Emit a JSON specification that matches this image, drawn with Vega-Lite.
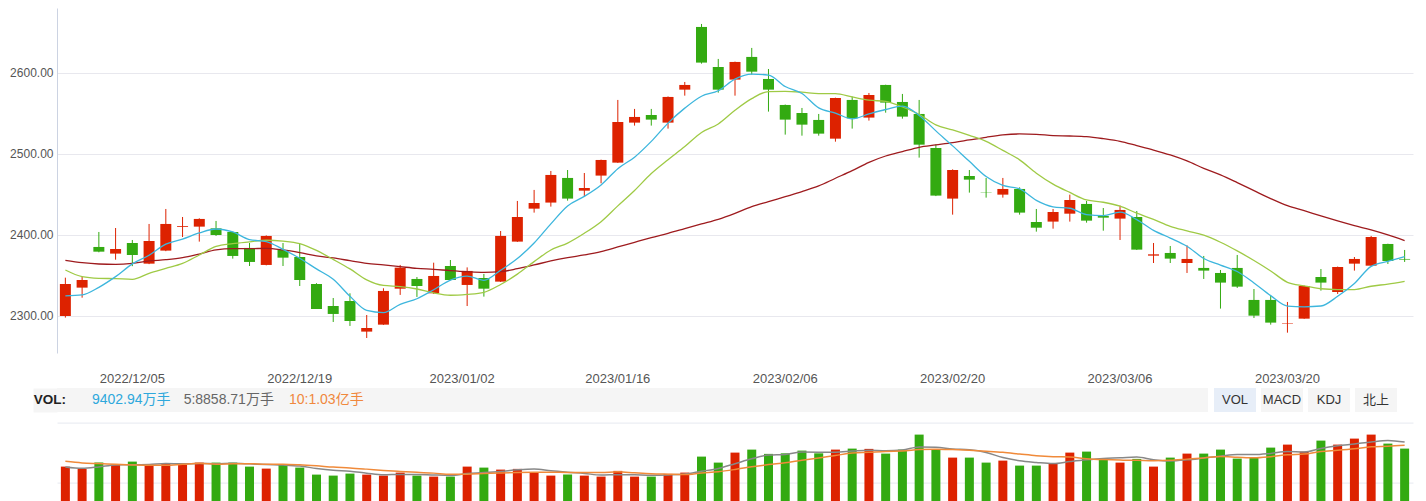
{
  "$schema": "https://vega.github.io/schema/vega-lite/v6.json",
  "padding": {"left": 9, "top": 8, "right": 13, "bottom": 0},
  "background": "#ffffff",
  "config": {
    "view": {"stroke": null},
    "font": "Liberation Sans, Arial, Noto Sans CJK SC, sans-serif",
    "axis": {"labelFont": "Liberation Sans, Arial, Noto Sans CJK SC, sans-serif"}
  },
  "datasets": {
    "k": [
      {"d":"2022/11/29","o":2300,"h":2347.3,"l":2298,"c":2339.5,"m5":2324.7,"m10":2356.8,"m30":2368.7,"v":6300,"vm5":6250,"vm10":7230},
      {"d":"2022/11/30","o":2335,"h":2348.6,"l":2322.6,"c":2344.4,"m5":2326,"m10":2348.6,"m30":2365.8,"v":5900,"vm5":6000,"vm10":6950},
      {"d":"2022/12/01","o":2385.2,"h":2403.7,"l":2378.6,"c":2379.4,"m5":2335.4,"m10":2346.5,"m30":2364.2,"v":7000,"vm5":6250,"vm10":6825},
      {"d":"2022/12/02","o":2377,"h":2408.6,"l":2369.5,"c":2382.7,"m5":2348.6,"m10":2346.1,"m30":2363.8,"v":6650,"vm5":6600,"vm10":6700},
      {"d":"2022/12/05","o":2390.1,"h":2393.8,"l":2361.5,"c":2375.3,"m5":2364.3,"m10":2345.3,"m30":2365,"v":7175,"vm5":6605,"vm10":6600},
      {"d":"2022/12/06","o":2364.6,"h":2413.6,"l":2364,"c":2392.6,"m5":2374.9,"m10":2352.7,"m30":2367.9,"v":6650,"vm5":6675,"vm10":6530},
      {"d":"2022/12/07","o":2380.7,"h":2432.1,"l":2380,"c":2413.6,"m5":2388.7,"m10":2358.8,"m30":2369.5,"v":6825,"vm5":6860,"vm10":6530},
      {"d":"2022/12/08","o":2410,"h":2422.2,"l":2397.5,"c":2411,"m5":2395,"m10":2365,"m30":2372,"v":6600,"vm5":6780,"vm10":6700},
      {"d":"2022/12/09","o":2410.3,"h":2420.6,"l":2391.8,"c":2419.8,"m5":2402.5,"m10":2375.3,"m30":2376.5,"v":7000,"vm5":6850,"vm10":6880},
      {"d":"2022/12/12","o":2408.2,"h":2417.3,"l":2398.8,"c":2400,"m5":2407.4,"m10":2385.8,"m30":2381.5,"v":7000,"vm5":6815,"vm10":6710},
      {"d":"2022/12/13","o":2403.7,"h":2404,"l":2370.8,"c":2374.1,"m5":2403.7,"m10":2389.3,"m30":2383.1,"v":7000,"vm5":6885,"vm10":6780},
      {"d":"2022/12/14","o":2384,"h":2390.1,"l":2361.7,"c":2366.7,"m5":2394.3,"m10":2391.5,"m30":2383.1,"v":6300,"vm5":6780,"vm10":6820},
      {"d":"2022/12/15","o":2363,"h":2399.5,"l":2362.5,"c":2398.8,"m5":2391.9,"m10":2393.5,"m30":2383.5,"v":5950,"vm5":6650,"vm10":6715},
      {"d":"2022/12/16","o":2381.5,"h":2390.1,"l":2361.7,"c":2372,"m5":2382.3,"m10":2392.4,"m30":2381.5,"v":6600,"vm5":6570,"vm10":6710},
      {"d":"2022/12/19","o":2372.8,"h":2389.3,"l":2337,"c":2344.4,"m5":2371.2,"m10":2389.3,"m30":2378.2,"v":6125,"vm5":6395,"vm10":6605},
      {"d":"2022/12/20","o":2339.5,"h":2340.5,"l":2308.6,"c":2308.6,"m5":2358.1,"m10":2380.9,"m30":2374.1,"v":4900,"vm5":5975,"vm10":6430},
      {"d":"2022/12/21","o":2312.3,"h":2322.2,"l":2292.6,"c":2302.5,"m5":2345.3,"m10":2369.8,"m30":2371.6,"v":4725,"vm5":5660,"vm10":6220},
      {"d":"2022/12/22","o":2318.5,"h":2328,"l":2287.7,"c":2293.8,"m5":2324.3,"m10":2358.1,"m30":2368.3,"v":5075,"vm5":5485,"vm10":6068},
      {"d":"2022/12/23","o":2280.7,"h":2301.2,"l":2272.8,"c":2285.2,"m5":2306.9,"m10":2344.6,"m30":2365,"v":4900,"vm5":5145,"vm10":5858},
      {"d":"2022/12/26","o":2289.3,"h":2334.2,"l":2289,"c":2330.9,"m5":2304.2,"m10":2337.7,"m30":2363,"v":4725,"vm5":4865,"vm10":5630},
      {"d":"2022/12/27","o":2333.7,"h":2363,"l":2326,"c":2359.7,"m5":2314.4,"m10":2336.3,"m30":2360.9,"v":5250,"vm5":4935,"vm10":5455},
      {"d":"2022/12/28","o":2345.7,"h":2348.1,"l":2323.5,"c":2337,"m5":2321.3,"m10":2333.3,"m30":2358.8,"v":4725,"vm5":4935,"vm10":5298},
      {"d":"2022/12/29","o":2328,"h":2365.8,"l":2327.2,"c":2349.4,"m5":2332.4,"m10":2328.4,"m30":2357.6,"v":4550,"vm5":4830,"vm10":5158},
      {"d":"2022/12/30","o":2361.7,"h":2369.1,"l":2344,"c":2344.4,"m5":2344.3,"m10":2325.6,"m30":2356,"v":4550,"vm5":4760,"vm10":4953},
      {"d":"2023/01/03","o":2338.3,"h":2360,"l":2312.3,"c":2355.6,"m5":2349.2,"m10":2326.7,"m30":2354.7,"v":6300,"vm5":5075,"vm10":4970},
      {"d":"2023/01/04","o":2346.9,"h":2351.9,"l":2323.9,"c":2333.7,"m5":2344,"m10":2329.2,"m30":2353.9,"v":6125,"vm5":5250,"vm10":5093},
      {"d":"2023/01/05","o":2342.4,"h":2404.9,"l":2342,"c":2398.8,"m5":2356.4,"m10":2338.9,"m30":2354.7,"v":5775,"vm5":5460,"vm10":5198},
      {"d":"2023/01/06","o":2391.8,"h":2442,"l":2391.5,"c":2422.2,"m5":2370.9,"m10":2351.7,"m30":2358.4,"v":5900,"vm5":5730,"vm10":5280},
      {"d":"2023/01/09","o":2432.5,"h":2455.6,"l":2427.6,"c":2439.5,"m5":2390,"m10":2367.1,"m30":2363,"v":5250,"vm5":5870,"vm10":5315},
      {"d":"2023/01/10","o":2440,"h":2479,"l":2435,"c":2474.1,"m5":2413.7,"m10":2381.4,"m30":2367.9,"v":4725,"vm5":5555,"vm10":5315},
      {"d":"2023/01/11","o":2470.4,"h":2480.2,"l":2442.4,"c":2444.9,"m5":2435.9,"m10":2390,"m30":2372,"v":4900,"vm5":5310,"vm10":5280},
      {"d":"2023/01/12","o":2454.7,"h":2476.5,"l":2447.3,"c":2458,"m5":2447.7,"m10":2402.1,"m30":2375.3,"v":4725,"vm5":5100,"vm10":5280},
      {"d":"2023/01/13","o":2473.3,"h":2493,"l":2463.8,"c":2492.6,"m5":2461.8,"m10":2416.4,"m30":2379.4,"v":4550,"vm5":4830,"vm10":5280},
      {"d":"2023/01/16","o":2489.3,"h":2566.7,"l":2489,"c":2539.5,"m5":2481.8,"m10":2435.9,"m30":2385.2,"v":5550,"vm5":4890,"vm10":5380},
      {"d":"2023/01/17","o":2538.7,"h":2555.6,"l":2535,"c":2545.7,"m5":2496.1,"m10":2454.9,"m30":2391,"v":4550,"vm5":4855,"vm10":5205},
      {"d":"2023/01/18","o":2548.1,"h":2555.6,"l":2535,"c":2542.4,"m5":2515.6,"m10":2475.8,"m30":2396.7,"v":4550,"vm5":4785,"vm10":5048},
      {"d":"2023/01/19","o":2538.7,"h":2571,"l":2531.3,"c":2570.4,"m5":2538.1,"m10":2492.9,"m30":2402,"v":5025,"vm5":4845,"vm10":4973},
      {"d":"2023/01/20","o":2579.4,"h":2588.9,"l":2572,"c":2585.2,"m5":2556.6,"m10":2509.2,"m30":2407.8,"v":5250,"vm5":4985,"vm10":4908},
      {"d":"2023/01/30","o":2656.8,"h":2660.5,"l":2611.5,"c":2612.8,"m5":2571.3,"m10":2526.6,"m30":2413.6,"v":8050,"vm5":5485,"vm10":5188},
      {"d":"2023/01/31","o":2607.4,"h":2617.3,"l":2575.7,"c":2579.4,"m5":2578,"m10":2537.1,"m30":2419.3,"v":7000,"vm5":5975,"vm10":5415},
      {"d":"2023/02/01","o":2591.8,"h":2614,"l":2572,"c":2613.6,"m5":2592.3,"m10":2554,"m30":2426.7,"v":8750,"vm5":6815,"vm10":5800},
      {"d":"2023/02/02","o":2619.8,"h":2630.9,"l":2598,"c":2601.6,"m5":2598.5,"m10":2568.3,"m30":2435,"v":9275,"vm5":7665,"vm10":6255},
      {"d":"2023/02/03","o":2592.6,"h":2604.9,"l":2552.3,"c":2579.4,"m5":2597.4,"m10":2577,"m30":2441.2,"v":8525,"vm5":8320,"vm10":6653},
      {"d":"2023/02/06","o":2560.5,"h":2561,"l":2523.9,"c":2542.4,"m5":2583.3,"m10":2577.3,"m30":2447.3,"v":8625,"vm5":8435,"vm10":6960},
      {"d":"2023/02/07","o":2550.6,"h":2556.8,"l":2522.6,"c":2536.2,"m5":2574.6,"m10":2576.3,"m30":2453.5,"v":9100,"vm5":8855,"vm10":7415},
      {"d":"2023/02/08","o":2542,"h":2549.4,"l":2522.6,"c":2525.1,"m5":2556.9,"m10":2574.6,"m30":2460.5,"v":8625,"vm5":8830,"vm10":7823},
      {"d":"2023/02/09","o":2518.9,"h":2569.5,"l":2515.2,"c":2569.1,"m5":2550.4,"m10":2574.5,"m30":2470,"v":9275,"vm5":8830,"vm10":8248},
      {"d":"2023/02/10","o":2566.7,"h":2570.8,"l":2531.3,"c":2544,"m5":2543.4,"m10":2570.4,"m30":2479.4,"v":9450,"vm5":9015,"vm10":8668},
      {"d":"2023/02/13","o":2544.9,"h":2575.3,"l":2541.2,"c":2572.8,"m5":2549.4,"m10":2566.4,"m30":2489.7,"v":9400,"vm5":9170,"vm10":8803},
      {"d":"2023/02/14","o":2585.2,"h":2585.5,"l":2551,"c":2563.4,"m5":2554.9,"m10":2564.8,"m30":2497.5,"v":8575,"vm5":9065,"vm10":8960},
      {"d":"2023/02/15","o":2564.2,"h":2574.1,"l":2543.6,"c":2546.1,"m5":2559.1,"m10":2558,"m30":2502.9,"v":9275,"vm5":9195,"vm10":9013},
      {"d":"2023/02/16","o":2549.4,"h":2566.7,"l":2495.5,"c":2511.5,"m5":2547.6,"m10":2549,"m30":2508.2,"v":11900,"vm5":9720,"vm10":9275},
      {"d":"2023/02/17","o":2507.4,"h":2511.9,"l":2448,"c":2448.6,"m5":2528.5,"m10":2535.9,"m30":2511.1,"v":9275,"vm5":9685,"vm10":9350},
      {"d":"2023/02/20","o":2444.9,"h":2481,"l":2425.1,"c":2480.2,"m5":2510,"m10":2529.7,"m30":2514,"v":7875,"vm5":9380,"vm10":9275},
      {"d":"2023/02/21","o":2472.8,"h":2480.2,"l":2452.3,"c":2468.3,"m5":2490.9,"m10":2522.9,"m30":2517.3,"v":7875,"vm5":9240,"vm10":9153},
      {"d":"2023/02/22","o":2452.2,"h":2470.4,"l":2446.1,"c":2451.8,"m5":2472.1,"m10":2515.6,"m30":2520.6,"v":7000,"vm5":8785,"vm10":8990},
      {"d":"2023/02/23","o":2449.8,"h":2470.4,"l":2446.1,"c":2456.8,"m5":2461.1,"m10":2504.4,"m30":2523.5,"v":7350,"vm5":7875,"vm10":8798},
      {"d":"2023/02/24","o":2456.8,"h":2458.8,"l":2425.1,"c":2427.6,"m5":2456.9,"m10":2492.7,"m30":2524.7,"v":6475,"vm5":7315,"vm10":8500},
      {"d":"2023/02/27","o":2416,"h":2432.1,"l":2404.1,"c":2409,"m5":2442.7,"m10":2476.3,"m30":2524.3,"v":6475,"vm5":7035,"vm10":8208},
      {"d":"2023/02/28","o":2416.5,"h":2432.1,"l":2407.8,"c":2428.4,"m5":2434.7,"m10":2462.8,"m30":2522.6,"v":6875,"vm5":6835,"vm10":8038},
      {"d":"2023/03/01","o":2426.3,"h":2449.8,"l":2416.5,"c":2443.2,"m5":2433,"m10":2452.5,"m30":2522.2,"v":8750,"vm5":7185,"vm10":7985},
      {"d":"2023/03/02","o":2438.3,"h":2442,"l":2415.2,"c":2417.7,"m5":2425.2,"m10":2443.2,"m30":2521.4,"v":8925,"vm5":7500,"vm10":7688},
      {"d":"2023/03/03","o":2423.5,"h":2433.3,"l":2405.3,"c":2421.4,"m5":2423.9,"m10":2440.4,"m30":2518.9,"v":7650,"vm5":7735,"vm10":7525},
      {"d":"2023/03/06","o":2420.2,"h":2436.2,"l":2393.8,"c":2430.9,"m5":2428.3,"m10":2435.5,"m30":2515.6,"v":7000,"vm5":7840,"vm10":7438},
      {"d":"2023/03/07","o":2422.2,"h":2429.6,"l":2381.5,"c":2381.9,"m5":2419,"m10":2426.9,"m30":2510.3,"v":7650,"vm5":7995,"vm10":7415},
      {"d":"2023/03/08","o":2374.5,"h":2390.1,"l":2365.4,"c":2376.1,"m5":2405.6,"m10":2419.3,"m30":2504.9,"v":6300,"vm5":7505,"vm10":7345},
      {"d":"2023/03/09","o":2377.8,"h":2386.4,"l":2365.4,"c":2370.8,"m5":2396.2,"m10":2410.7,"m30":2498.8,"v":7875,"vm5":7295,"vm10":7398},
      {"d":"2023/03/10","o":2365.4,"h":2387.2,"l":2353.1,"c":2370.4,"m5":2386,"m10":2405,"m30":2491.4,"v":8575,"vm5":7480,"vm10":7608},
      {"d":"2023/03/13","o":2359.3,"h":2374.1,"l":2345.7,"c":2356,"m5":2371,"m10":2399.7,"m30":2482.3,"v":8575,"vm5":7795,"vm10":7818},
      {"d":"2023/03/14","o":2353.1,"h":2356.8,"l":2309.1,"c":2341.2,"m5":2362.9,"m10":2391,"m30":2474.1,"v":9275,"vm5":8120,"vm10":8058},
      {"d":"2023/03/15","o":2359.3,"h":2375.3,"l":2334.6,"c":2336.2,"m5":2354.9,"m10":2380.3,"m30":2464.6,"v":7700,"vm5":8400,"vm10":7953},
      {"d":"2023/03/16","o":2319.8,"h":2333.3,"l":2297.5,"c":2300.4,"m5":2340.8,"m10":2368.5,"m30":2454.7,"v":7875,"vm5":8400,"vm10":7848},
      {"d":"2023/03/17","o":2319.8,"h":2324.7,"l":2289.3,"c":2291.8,"m5":2325.1,"m10":2355.6,"m30":2444.9,"v":9625,"vm5":8610,"vm10":8045},
      {"d":"2023/03/20","o":2290.6,"h":2317.3,"l":2279.4,"c":2291.2,"m5":2312.2,"m10":2341.6,"m30":2436.2,"v":10150,"vm5":8925,"vm10":8360},
      {"d":"2023/03/21","o":2296.7,"h":2337.5,"l":2296.5,"c":2337,"m5":2311.3,"m10":2337.1,"m30":2430,"v":8925,"vm5":8855,"vm10":8488},
      {"d":"2023/03/22","o":2348.1,"h":2358,"l":2331.3,"c":2341.2,"m5":2312.3,"m10":2333.6,"m30":2423.5,"v":10850,"vm5":9485,"vm10":8943},
      {"d":"2023/03/23","o":2329.6,"h":2361,"l":2327.2,"c":2360.5,"m5":2324.3,"m10":2332.6,"m30":2417.3,"v":10150,"vm5":9940,"vm10":9170},
      {"d":"2023/03/24","o":2364.6,"h":2372.8,"l":2356,"c":2370.4,"m5":2340.1,"m10":2332.6,"m30":2411.5,"v":11200,"vm5":10255,"vm10":9433},
      {"d":"2023/03/27","o":2362.1,"h":2398.8,"l":2361.5,"c":2397.5,"m5":2361.3,"m10":2336.7,"m30":2406.2,"v":11900,"vm5":10605,"vm10":9765},
      {"d":"2023/03/28","o":2388.9,"h":2389.2,"l":2364.2,"c":2367.9,"m5":2367.5,"m10":2339.4,"m30":2400,"v":10325,"vm5":10885,"vm10":9870},
      {"d":"2023/03/29","o":2370.4,"h":2381.5,"l":2366.7,"c":2369.6,"m5":2373.2,"m10":2342.8,"m30":2393,"v":9450,"vm5":10605,"vm10":10045}
    ],
    "legend": [
      {"key": "VOL:", "text": "VOL:"},
      {"key": "vol", "text": "9402.94万手"},
      {"key": "ma5", "text": "5:8858.71万手"},
      {"key": "ma10", "text": "10:1.03亿手"}
    ],
    "buttons": [
      {"name": "VOL"},
      {"name": "MACD"},
      {"name": "KDJ"},
      {"name": "北上"}
    ]
  },
  "spacing": 10.6,
  "vconcat": [
    {
      "spacing": 0,
      "vconcat": [
        {
          "width": 1356,
          "height": 345,
          "data": {"name": "k"},
          "encoding": {
            "x": {
              "field": "d", "type": "ordinal",
              "scale": {"type": "band", "paddingInner": 0.343, "paddingOuter": 0.1715},
              "axis": {
                "values": ["2022/12/05","2022/12/19","2023/01/03","2023/01/16","2023/02/06","2023/02/20","2023/03/06","2023/03/20"],
                "labelExpr": "datum.value == '2023/01/03' ? '2023/01/02' : datum.value",
                "labelOffset": {"condition": {"test": "datum.value == '2023/01/03'", "value": -5}, "value": 0},
                "title": null, "domain": false, "ticks": false, "grid": false,
                "labelAngle": 0, "labelPadding": 19, "labelFontSize": 13, "labelColor": "#555555",
                "minExtent": 34.7, "maxExtent": 34.7
              }
            }
          },
          "layer": [
            {
              "mark": {"type": "rule", "strokeWidth": 1},
              "encoding": {
                "y": {
                  "field": "l", "type": "quantitative",
                  "scale": {"domain": [2254.3, 2680.2], "zero": false, "nice": false},
                  "axis": {
                    "values": [2300, 2400, 2500, 2600], "format": ".2f", "title": null,
                    "ticks": false, "domain": true, "domainColor": "#ccd3e2",
                    "gridColor": "#e8e8ee", "labelColor": "#555555", "labelFontSize": 12,
                    "labelPadding": 4, "minExtent": 48, "maxExtent": 48
                  }
                },
                "y2": {"field": "h"},
                "color": {"condition": {"test": "datum.c >= datum.o", "value": "#dd2200"}, "value": "#33aa11"}
              }
            },
            {
              "mark": {"type": "bar"},
              "encoding": {
                "y": {"field": "o", "type": "quantitative"},
                "y2": {"field": "c"},
                "color": {"condition": {"test": "datum.c >= datum.o", "value": "#dd2200"}, "value": "#33aa11"}
              }
            },
            {
              "mark": {"type": "line", "color": "#9e1b1e", "strokeWidth": 1.3, "interpolate": "monotone"},
              "encoding": {"y": {"field": "m30", "type": "quantitative"}}
            },
            {
              "mark": {"type": "line", "color": "#9fca45", "strokeWidth": 1.3, "interpolate": "monotone"},
              "encoding": {"y": {"field": "m10", "type": "quantitative"}}
            },
            {
              "mark": {"type": "line", "color": "#3db6dd", "strokeWidth": 1.3, "interpolate": "monotone"},
              "encoding": {"y": {"field": "m5", "type": "quantitative"}}
            }
          ]
        },
        {
          "spacing": 6,
          "hconcat": [
            {
              "width": 1151,
              "height": 24,
              "view": {"fill": "#f5f5f5", "stroke": null},
              "data": {"name": "legend"},
              "encoding": {
                "x": {
                  "field": "key", "type": "nominal",
                  "scale": {"type": "point", "domain": ["VOL:", "vol", "ma5", "ma10"], "range": [-23.3, 269.3], "padding": 0},
                  "axis": null
                },
                "y": {
                  "datum": "VOL", "type": "nominal",
                  "axis": {"title": null, "labels": false, "ticks": false, "grid": false,
                           "domain": true, "domainColor": "#f5f5f5", "domainWidth": 24, "domainCap": "butt", "offset": 12}
                },
                "text": {"field": "text"}
              },
              "layer": [
                {
                  "transform": [{"filter": "datum.key == 'VOL:'"}],
                  "mark": {"type": "text", "align": "left", "baseline": "middle", "fontSize": 13.5, "fontWeight": "bold", "color": "#222222"}
                },
                {
                  "transform": [{"filter": "datum.key != 'VOL:'"}],
                  "mark": {"type": "text", "align": "center", "baseline": "middle", "fontSize": 14},
                  "encoding": {
                    "color": {
                      "condition": [
                        {"test": "datum.key == 'vol'", "value": "#2ea8dc"},
                        {"test": "datum.key == 'ma10'", "value": "#f0883c"}
                      ],
                      "value": "#666666"
                    }
                  }
                }
              ]
            },
            {
              "width": 183,
              "height": 24,
              "data": {"name": "buttons"},
              "encoding": {
                "x": {
                  "field": "name", "type": "nominal", "sort": null,
                  "scale": {"type": "band", "domain": ["VOL", "MACD", "KDJ", "北上"], "paddingInner": 0.1064, "paddingOuter": 0},
                  "axis": null
                }
              },
              "layer": [
                {
                  "mark": {"type": "rect"},
                  "encoding": {
                    "color": {"condition": {"test": "datum.name == 'VOL'", "value": "#e7eef8"}, "value": "#f5f5f5"}
                  }
                },
                {
                  "mark": {"type": "text", "fontSize": 13, "color": "#333333", "baseline": "middle", "align": "center"},
                  "encoding": {"text": {"field": "name"}}
                }
              ]
            }
          ]
        }
      ]
    },
    {
      "width": 1356,
      "height": 80,
      "data": {"name": "k"},
      "encoding": {
        "x": {
          "field": "d", "type": "ordinal",
          "scale": {"type": "band", "paddingInner": 0.4624, "paddingOuter": 0.2312},
          "axis": null
        }
      },
      "layer": [
        {
          "mark": {"type": "bar"},
          "encoding": {
            "y": {
              "field": "v", "type": "quantitative",
              "scale": {"domain": [0, 14000], "nice": false},
              "axis": {
                "values": [3500, 7000, 10500, 14000], "labels": false, "ticks": false, "domain": false,
                "title": null, "gridColor": "#e6e9f0", "minExtent": 48, "maxExtent": 48
              }
            },
            "color": {"condition": {"test": "datum.c >= datum.o", "value": "#dd2200"}, "value": "#33aa11"}
          }
        },
        {
          "mark": {"type": "line", "color": "#888888", "strokeWidth": 1.5, "interpolate": "monotone"},
          "encoding": {"y": {"field": "vm5", "type": "quantitative"}}
        },
        {
          "mark": {"type": "line", "color": "#f08a3a", "strokeWidth": 1.5, "interpolate": "monotone"},
          "encoding": {"y": {"field": "vm10", "type": "quantitative"}}
        }
      ]
    }
  ]
}
